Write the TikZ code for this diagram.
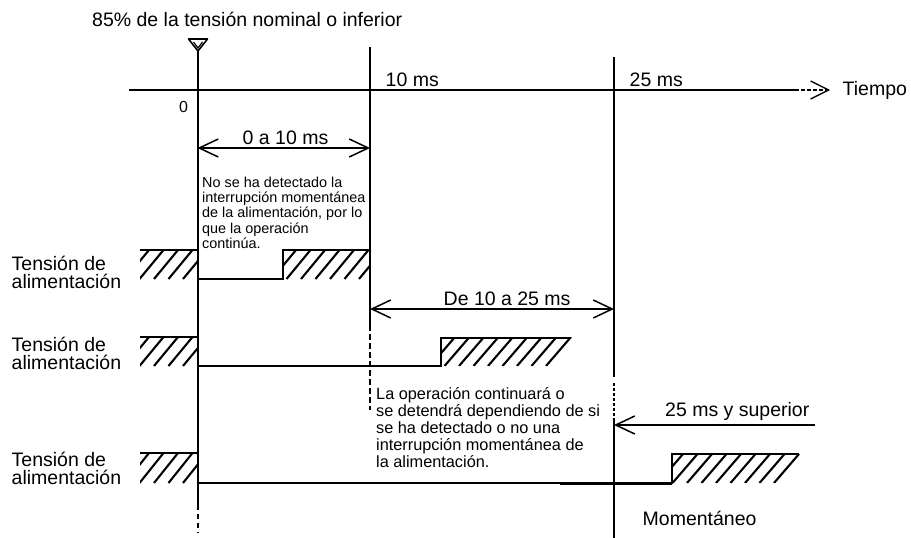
\documentclass[tikz,border=0pt]{standalone}
\usepackage{fontspec}
\setmainfont{Liberation Sans}
\usetikzlibrary{arrows.meta}
\newcommand\mlines[1]{\vtop{\halign{##\hfil\cr#1\crcr}}}
\newcommand\hatchrect[5]{%
  \begin{scope}
    \clip (#1,#3) rectangle (#2,#4);
    \foreach \hk in {0,...,12} \draw[hatchline] ({#5-14.5*\hk},#4) -- ++(24,{#3-#4});
  \end{scope}}
\newcommand\hatchpar[5]{%
  \begin{scope}
    \clip (#1,#3) -- ({#5+27},#3) -- ({#5+2},#4) -- (#1,#4) -- cycle;
    \foreach \hk in {0,...,12} \draw[hatchline] ({#5-14.5*\hk},#4) -- ++(25,{#3-#4});
  \end{scope}}
\begin{document}
\begin{tikzpicture}[x=1pt,y=-1pt,
  wave/.style={line width=2pt},
  thinline/.style={line width=1.3pt},
  hatchline/.style={line width=2.1pt},
  dimarrow/.style={line width=1.5pt,{Straight Barb[length=19pt,width=18pt]}-{Straight Barb[length=19pt,width=18pt]}},
  dimleft/.style={line width=1.5pt,{Straight Barb[length=19pt,width=18pt]}-},
  lbl/.style={inner sep=0pt,anchor=base west,font=\fontsize{19.5}{17.7}\selectfont},
  note/.style={inner sep=0pt,anchor=base west},
]
\useasboundingbox (0,0) rectangle (911,538);

% key coordinates
\coordinate (t0top) at (197.5,50);
\coordinate (t0bot) at (197.5,505);
\coordinate (t0end) at (197.5,533);
\coordinate (t10top) at (370,47);
\coordinate (t10mid) at (370,325);
\coordinate (t10bot) at (370,410);
\coordinate (t25top) at (614,57);
\coordinate (t25a) at (614,377);
\coordinate (t25b) at (614,383);
\coordinate (t25c) at (614,418);
\coordinate (t25bot) at (614,538);
\coordinate (axstart) at (129,90);
\coordinate (ax10) at (370,90);
\coordinate (axdash) at (795,90);
\coordinate (axend) at (830,90);

% time axis
\draw[wave] (axstart) -- (ax10);
\draw[thinline] (ax10) -- (axdash);
\draw[thinline, dash pattern=on 4pt off 2pt, -{Straight Barb[length=18pt,width=18pt]}] (axdash) -- (axend);

% trigger marker
\draw[line width=1.6pt, line join=round] (188.5,39) -- (207.5,39) -- (198,51) -- cycle;
\draw[line width=1.2pt] (193.5,42) -- (198,48) -- (202.5,42);

% vertical time lines
\draw[wave] (t0top) -- (t0bot);
\draw[wave, dash pattern=on 5pt off 4pt] (t0bot) -- (t0end);
\draw[thinline] (t10top) -- (t10mid);
\draw[thinline, dash pattern=on 6pt off 3pt] (t10mid) -- (t10bot);
\draw[thinline] (t25top) -- (t25a);
\draw[wave, dash pattern=on 3pt off 2pt] (t25b) -- (t25c);
\draw[wave] (t25c) -- (t25bot);

% hatching
\hatchrect{140}{197.5}{250}{279}{183}
\hatchrect{283}{370}{250}{279}{359}
\hatchrect{140}{197.5}{337}{366}{183}
\hatchpar{441}{571}{337}{366}{546}
\hatchrect{140}{197.5}{453}{483}{183}
\hatchpar{672}{799}{454}{483}{774}

% waveforms
\draw[wave] (140,250) -- (197.5,250) -- (197.5,279) -- (283,279) -- (283,250) -- (370,250);
\draw[wave] (140,337) -- (197.5,337) -- (197.5,366) -- (441,366) -- (441,337.5) -- (571,337.5);
\draw[wave] (140,453) -- (197.5,453) -- (197.5,483) -- (672,483) -- (672,454) -- (799,454);
\draw[line width=3pt] (560,483) -- (672,483);

% dimension arrows
\coordinate (d1a) at (197.5,148);
\coordinate (d1b) at (370,148);
\coordinate (d2a) at (370,309);
\coordinate (d2b) at (614,309);
\coordinate (d3a) at (614,425);
\coordinate (d3b) at (815,425);
\draw[dimarrow] (d1a) -- (d1b);
\draw[dimarrow] (d2a) -- (d2b);
\draw[dimleft] (d3a) -- (d3b);

% labels
\node[lbl] (title) at (92,26.7) {85\% de la tensión nominal o inferior};
\node[lbl] (t10) at (385.5,86.7) {10 ms};
\node[lbl] (t25) at (629.5,86.7) {25 ms};
\node[lbl] (tiempo) at (842.5,95) {Tiempo};
\node[inner sep=0pt, font=\fontsize{16}{16}\selectfont] (zero) at (183.5,106.7) {0};
\node[lbl] (l010) at (242.5,144.5) {0 a 10 ms};
\node[lbl] (l1025) at (443.5,305) {De 10 a 25 ms};
\node[lbl] (l25s) at (665,416.7) {25 ms y superior};
\node[lbl] (mom) at (642.5,525.7) {Momentáneo};

\node[lbl] (v1) at (11.5,270.7) {\mlines{Tensión de\cr alimentación}};
\node[lbl] (v2) at (11.5,351.7) {\mlines{Tensión de\cr alimentación}};
\node[lbl] (v3) at (11.5,466.7) {\mlines{Tensión de\cr alimentación}};

\node[note, font=\fontsize{14.4}{15.25}\selectfont] (n1) at (202,187.3)
  {\mlines{No se ha detectado la\cr interrupción momentánea\cr de la alimentación, por lo\cr que la operación\cr continúa.}};
\node[note, font=\fontsize{16.3}{17.1}\selectfont] (n2) at (376,399.3)
  {\mlines{La operación continuará o\cr se detendrá dependiendo de si\cr se ha detectado o no una\cr interrupción momentánea de\cr la alimentación.}};
\end{tikzpicture}
\end{document}
